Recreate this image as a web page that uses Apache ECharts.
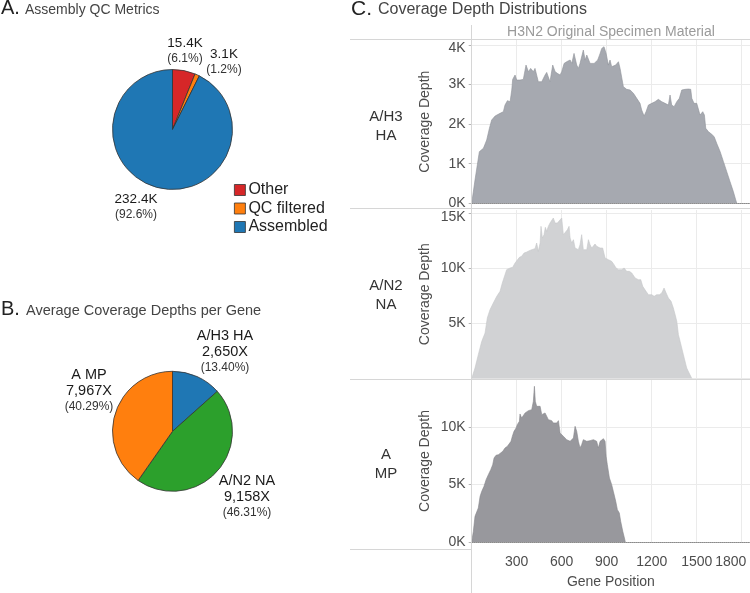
<!DOCTYPE html>
<html><head><meta charset="utf-8">
<script src="https://cdn.jsdelivr.net/npm/echarts@6/dist/echarts.min.js"></script>
<style>html,body{margin:0;padding:0;background:#fff}#c{width:750px;height:593px}</style>
</head><body><div id="c"></div>
<script>
// ---------- Panel A: Assembly QC metrics (thousands of reads) ----------
const qcCategories = ['Other', 'QC filtered', 'Assembled'];
const qcValues = [15.4, 3.1, 232.4];

// ---------- Panel B: average coverage depth per gene ----------
const geneCategories = ['A/H3 HA', 'A/N2 NA', 'A MP'];
const geneDepths = [2650, 9158, 7967];

// ---------- Panel C: coverage depth distributions ----------
const stripLabels = ['A/H3\nHA', 'A/N2\nNA', 'A\nMP'];
const stripHeader = 'H3N2 Original Specimen Material';
const xTicks = [300, 600, 900, 1200, 1500, 1800];
const haYTicks = [0, 1000, 2000, 3000, 4000];
const naYTicks = [5000, 10000, 15000];
const mpYTicks = [0, 5000, 10000];

// [gene position, coverage depth]
const haProfile = [[0,0],[22,589],[51,1305],[78,1389],[100,1599],[118,1894],[133,2104],[156,2205],[189,2273],[211,2315],[222,2483],[238,2593],[256,2567],[267,2862],[273,3131],[289,3241],[300,3114],[322,3114],[344,3131],[362,3493],[378,3325],[393,3409],[411,3325],[422,3409],[444,3072],[467,3072],[489,3241],[500,3308],[522,3072],[540,3493],[556,3325],[571,3283],[589,3241],[600,3325],[616,3535],[633,3577],[656,3620],[667,3535],[682,3788],[700,3493],[711,3409],[722,3535],[744,3872],[756,3620],[767,3746],[778,3704],[789,3535],[800,3577],[816,3535],[829,3577],[840,3620],[856,3788],[867,3914],[882,3956],[896,3788],[911,3493],[922,3620],[933,3451],[944,3409],[960,3493],[978,3577],[989,3409],[1000,3409],[1011,2946],[1033,2879],[1056,2862],[1078,2778],[1100,2652],[1122,2525],[1133,2357],[1149,2205],[1162,2315],[1178,2483],[1200,2525],[1222,2567],[1244,2626],[1267,2567],[1289,2525],[1311,2483],[1322,2736],[1333,2483],[1349,2441],[1367,2567],[1384,2652],[1400,2862],[1422,2879],[1444,2887],[1460,2879],[1467,2652],[1482,2525],[1500,2525],[1511,2483],[1522,2231],[1540,2315],[1551,2231],[1560,1894],[1578,1810],[1600,1742],[1616,1684],[1633,1515],[1656,1305],[1678,1052],[1700,800],[1722,547],[1744,295],[1760,84],[1767,0]];

const naProfile = [[0,0],[22,954],[44,2166],[67,3378],[89,4136],[104,5499],[111,5802],[122,6257],[144,6863],[167,7469],[189,7923],[204,8681],[222,9438],[233,9893],[256,10044],[273,10105],[289,10499],[300,10650],[318,11014],[333,11105],[349,11408],[367,11499],[384,11620],[400,11711],[422,11802],[433,12317],[444,11559],[456,12317],[462,13831],[471,12771],[482,13074],[491,13740],[500,13377],[511,13831],[522,14134],[533,14286],[544,14589],[556,14134],[571,14134],[584,13983],[600,14589],[611,13074],[622,12923],[638,13528],[649,13831],[656,12771],[667,12317],[678,12620],[689,11862],[700,11711],[711,11711],[722,12165],[733,13074],[744,11711],[756,11862],[767,11711],[778,12620],[789,12165],[800,11862],[811,12014],[822,12226],[833,12014],[844,12014],[856,11862],[873,11862],[889,10953],[911,10802],[933,10650],[949,10347],[962,10044],[978,9893],[1000,9893],[1016,10044],[1033,9741],[1051,9741],[1067,9590],[1089,9135],[1111,8984],[1127,8984],[1140,8378],[1151,8226],[1162,7923],[1178,7620],[1189,7469],[1200,7620],[1216,7469],[1233,7620],[1251,7620],[1267,7772],[1282,8226],[1296,7772],[1311,7317],[1329,7014],[1344,6408],[1356,5802],[1367,5196],[1378,3984],[1389,3378],[1411,2166],[1433,954],[1449,500],[1460,197],[1467,0]];

const mpProfile = [[0,0],[11,929],[22,2236],[33,2381],[44,2962],[56,3978],[67,4414],[82,4850],[96,5430],[111,5866],[127,6302],[140,6737],[149,7318],[162,7550],[178,7608],[193,7754],[207,7899],[222,8189],[238,8334],[251,8480],[262,8770],[271,9206],[282,9641],[296,9932],[304,10222],[318,10512],[322,11151],[333,10803],[344,10948],[356,11238],[367,11238],[378,11442],[389,11384],[400,11529],[411,12255],[418,13562],[424,12255],[433,11819],[444,11674],[456,11819],[467,11093],[478,11035],[489,11238],[500,11093],[511,10657],[522,10512],[533,10570],[544,10367],[556,10512],[567,10367],[578,10570],[589,9496],[600,9351],[611,9206],[622,9060],[633,8915],[644,9002],[656,8770],[667,8915],[678,9060],[689,10077],[700,9641],[711,8770],[722,8189],[733,8480],[744,8915],[756,8770],[767,8770],[778,8915],[789,8828],[800,9002],[811,8915],[822,9060],[833,8770],[844,8189],[856,8770],[867,8915],[878,9002],[889,8770],[896,7463],[904,6737],[918,5576],[933,4995],[944,4414],[960,3543],[971,2817],[984,2526],[993,1800],[1007,929],[1018,348],[1024,0]];

// ---------- layout / style (not data) ----------
const FONT = '"Liberation Sans", Arial, sans-serif';
const TXT = '#4d4d4d';
const GRID = '#ebebeb';
const SEP = '#d6d6d6';
const pieA = {cx: 172.5, cy: 129.5, r: 60};
const pieB = {cx: 172.5, cy: 431.3, r: 60};
const labelOffA = [[12.5, -79], [51.5, -68], [-36.5, 77]];
const labelOffB = [[52.5, -79.3], [74.5, 65.7], [-83.5, -40.3]];
const qcColors = ['#d62728', '#ff7f0e', '#1f77b4'];
const geneColors = ['#1f77b4', '#2ca02c', '#ff7f0e'];
const areaColors = ['#a6a9b0', '#d1d2d4', '#98989d'];
const edgeColors = ['#8e9299', '#c6c7ca', '#86868b'];
const xMax = 1855;
const grids = [
  {top: 40, height: 163.3, yMax: 4126, interval: 1000, showMin: true, strip: 126},
  {top: 210, height: 168.5, yMax: 15318, interval: 5000, showMin: false, strip: 295},
  {top: 380, height: 162, yMax: 14111, interval: 5000, showMin: true, strip: 464.5}
];
const profiles = [haProfile, naProfile, mpProfile];
const yTickSets = [haYTicks, naYTicks, mpYTicks];

const qcTotal = qcValues.reduce((a, b) => a + b, 0);
const geneTotal = geneDepths.reduce((a, b) => a + b, 0);
const comma = n => String(n).replace(/\B(?=(\d{3})+(?!\d))/g, ',');

const chart = echarts.init(document.getElementById('c'), null, {renderer: 'canvas'});

const xAxes = grids.map((g, i) => ({
  type: 'value', gridIndex: i, min: 0, max: xMax, interval: 300,
  axisLine: {show: i !== 1, onZero: true, lineStyle: {type: 'dotted', color: '#8a8a8a', width: 1}},
  axisTick: {show: false},
  axisLabel: {
    show: i === 2, fontSize: 14, color: TXT, margin: 13.5, fontFamily: FONT,
    showMinLabel: false, showMaxLabel: false,
    formatter: v => xTicks.includes(v) ? (v === xTicks[xTicks.length - 1] ? '{r|' + v + '}' : String(v)) : '',
    rich: {r: {fontSize: 14, color: TXT, fontFamily: FONT, padding: [0, 22, 0, 0]}}
  },
  splitLine: {show: true, showMinLine: false, showMaxLine: false, lineStyle: {color: GRID, width: 1}},
  name: i === 2 ? 'Gene Position' : '', nameLocation: 'middle', nameGap: 33.5,
  nameTextStyle: {fontSize: 14, color: TXT, fontFamily: FONT}
}));

const yAxes = grids.map((g, i) => {
  const ticks = yTickSets[i];
  const topTick = ticks[ticks.length - 1];
  return {
    type: 'value', gridIndex: i, min: 0, max: g.yMax, interval: g.interval,
    axisLine: {show: false},
    axisTick: {show: true, length: 3, lineStyle: {color: '#b5b5b5'}},
    axisLabel: {
      fontSize: 14, color: TXT, margin: 6, fontFamily: FONT,
      showMaxLabel: false, showMinLabel: g.showMin,
      formatter: v => ticks.includes(v) ? (v === topTick && i < 2 ? '{t|' + (v / 1000) + 'K}' : (v / 1000) + 'K') : '',
      rich: {t: {fontSize: 14, color: TXT, fontFamily: FONT, padding: [7, 0, 0, 0]}}
    },
    splitLine: {show: true, showMaxLine: false, lineStyle: {color: GRID, width: 1}},
    name: 'Coverage Depth', nameLocation: 'middle', nameGap: 40,
    nameTextStyle: {fontSize: 14, color: TXT, fontFamily: FONT}
  };
});

const areaSeries = profiles.map((p, i) => ({
  type: 'line', xAxisIndex: i, yAxisIndex: i, data: p,
  showSymbol: false, symbol: 'none', smooth: false,
  lineStyle: {color: edgeColors[i], width: 0.6},
  areaStyle: {color: areaColors[i], opacity: 1},
  z: 3, silent: true
}));

const pieASeries = {
  type: 'pie', center: [pieA.cx, pieA.cy], radius: pieA.r,
  startAngle: 90, clockwise: true, avoidLabelOverlap: false, silent: true,
  data: qcCategories.map((n, i) => ({name: n, value: qcValues[i], itemStyle: {color: qcColors[i]}})),
  itemStyle: {borderColor: '#333', borderWidth: 0.8},
  label: {
    show: true, position: 'outside', fontFamily: FONT,
    formatter: p => '{v|' + p.value + 'K}\n{p|(' + (p.value / qcTotal * 100).toFixed(1) + '%)}',
    rich: {
      v: {fontSize: 13.5, lineHeight: 16, color: '#1a1a1a', fontFamily: FONT, align: 'center'},
      p: {fontSize: 12, lineHeight: 15, color: '#333', fontFamily: FONT, align: 'center'}
    }
  },
  labelLine: {show: false},
  labelLayout: params => {
    const o = labelOffA[params.dataIndex];
    return {x: pieA.cx + o[0], y: pieA.cy + o[1], align: 'center', verticalAlign: 'middle'};
  }
};

const pieBSeries = {
  type: 'pie', center: [pieB.cx, pieB.cy], radius: pieB.r,
  startAngle: 90, clockwise: true, avoidLabelOverlap: false, silent: true,
  data: geneCategories.map((n, i) => ({name: n, value: geneDepths[i], itemStyle: {color: geneColors[i]}})),
  itemStyle: {borderColor: '#333', borderWidth: 0.8},
  label: {
    show: true, position: 'outside', fontFamily: FONT,
    formatter: p => '{n|' + p.name + '}\n{n|' + comma(p.value) + 'X}\n{p|(' + (p.value / geneTotal * 100).toFixed(2) + '%)}',
    rich: {
      n: {fontSize: 14.5, lineHeight: 16, color: '#1a1a1a', fontFamily: FONT, align: 'center'},
      p: {fontSize: 12, lineHeight: 16, color: '#333', fontFamily: FONT, align: 'center'}
    }
  },
  labelLine: {show: false},
  labelLayout: params => {
    const o = labelOffB[params.dataIndex];
    return {x: pieB.cx + o[0], y: pieB.cy + o[1], align: 'center', verticalAlign: 'middle'};
  }
};

const txt = (x, y, text, size, fill, align) => ({
  type: 'text', x, y, silent: true,
  style: {text, fontSize: size, fontFamily: FONT, fill, align: align || 'left', verticalAlign: 'middle'}
});
const hline = (x1, x2, y) => ({type: 'line', silent: true, shape: {x1, y1: y, x2, y2: y}, style: {stroke: SEP, lineWidth: 1}, z: 10});

const graphics = [
  txt(1, 8.5, 'A.', 20, '#222'),
  txt(25, 10.4, 'Assembly QC Metrics', 14, '#444'),
  txt(1, 309.5, 'B.', 20, '#222'),
  txt(26, 311.3, 'Average Coverage Depths per Gene', 14.5, '#444'),
  txt(351, 8.8, 'C.', 21, '#222'),
  txt(378, 10, 'Coverage Depth Distributions', 16, '#444'),
  txt(611, 32, stripHeader, 14, '#9a9a9a', 'center'),
  hline(350, 750, 39.5),
  hline(350, 750, 208.5),
  hline(350, 750, 379.5),
  hline(350, 472, 549.5),
  {type: 'line', silent: true, shape: {x1: 471.5, y1: 25, x2: 471.5, y2: 593}, style: {stroke: SEP, lineWidth: 1}, z: 10}
].concat(stripLabels.map((s, i) => ({
  type: 'text', x: 386, y: grids[i].strip, silent: true,
  style: {text: s, fontSize: 15, lineHeight: 19, fontFamily: FONT, fill: '#333', align: 'center', verticalAlign: 'middle'}
})));

chart.setOption({
  animation: false,
  textStyle: {fontFamily: FONT},
  grid: grids.map(g => ({left: 471.7, right: 0, top: g.top, height: g.height, containLabel: false})),
  xAxis: xAxes,
  yAxis: yAxes,
  legend: {
    data: qcCategories, orient: 'vertical', left: 234, top: 182, padding: 0,
    itemWidth: 11, itemHeight: 11, itemGap: 2.5, selectedMode: false, icon: 'rect',
    itemStyle: {borderColor: '#333', borderWidth: 0.8},
    textStyle: {fontSize: 16, color: '#222', fontFamily: FONT, padding: [0, 0, 0, -2]}
  },
  series: areaSeries.concat([pieASeries, pieBSeries]),
  graphic: graphics
});
</script>
</body></html>
